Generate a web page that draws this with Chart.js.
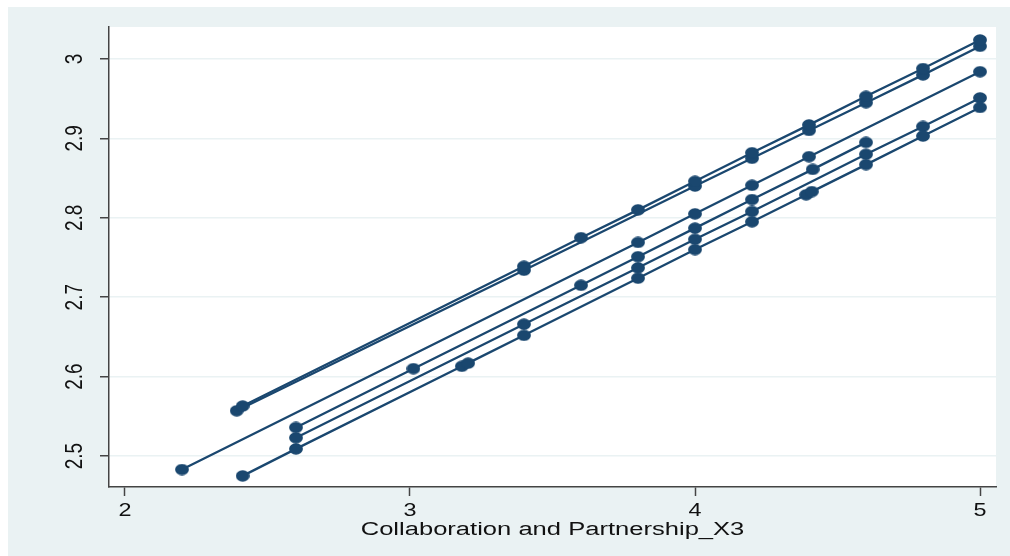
<!DOCTYPE html>
<html>
<head>
<meta charset="utf-8">
<script src="https://cdn.jsdelivr.net/npm/chart.js@4.4.1/dist/chart.umd.min.js"></script>
<style>
  html, body { margin: 0; padding: 0; background: #ffffff; }
  #wrap { width: 1010px; height: 556px; position: relative; }
</style>
</head>
<body>
<div id="wrap"><canvas id="c"></canvas></div>
<script>
// Axis ticks and labels
const xTicks = [2, 3, 4, 5];
const xTickLabels = ['2', '3', '4', '5'];
const yTicks = [2.5, 2.6, 2.7, 2.8, 2.9, 3.0];
const yTickLabels = ['2.5', '2.6', '2.7', '2.8', '2.9', '3'];
const xTitle = 'Collaboration and Partnership_X3';

// Fitted values per group (x = Collaboration and Partnership_X3)
const g1X = [2.413, 3.4, 3.6, 3.8, 4.0, 4.2, 4.4, 4.6, 4.8, 5.0];
const g1Y = [2.563, 2.739, 2.775, 2.810, 2.846, 2.882, 2.917, 2.953, 2.988, 3.024];
const g2X = [2.392, 3.4, 4.0, 4.2, 4.4, 4.6, 4.8, 5.0];
const g2Y = [2.557, 2.734, 2.840, 2.875, 2.910, 2.945, 2.980, 3.016];
const g3X = [2.2, 3.8, 4.0, 4.2, 4.4, 5.0];
const g3Y = [2.483, 2.769, 2.805, 2.841, 2.877, 2.984];
const g4X = [2.413, 2.6, 3.182, 3.204, 3.4, 3.8, 4.0, 4.2, 4.39, 4.41, 4.6, 4.8, 5.0];
const g4Y = [2.475, 2.509, 2.613, 2.617, 2.652, 2.724, 2.760, 2.795, 2.829, 2.833, 2.867, 2.903, 2.939];
const g5X = [2.6, 3.012, 3.6, 3.8, 4.0, 4.2, 4.413, 4.6];
const g5Y = [2.536, 2.610, 2.715, 2.751, 2.787, 2.823, 2.861, 2.895];
const g6X = [2.6, 3.4, 3.8, 4.0, 4.2, 4.6, 4.8, 5.0];
const g6Y = [2.523, 2.666, 2.737, 2.773, 2.808, 2.880, 2.915, 2.951];

const groups = [[g1X, g1Y], [g2X, g2Y], [g3X, g3Y], [g4X, g4Y], [g5X, g5Y], [g6X, g6Y]];

const navy = '#1a476f';
const frameColor = '#eaf2f3';
const axisColor = '#444444';

// Slightly oval marker
function makeMarker() {
  const c = document.createElement('canvas');
  c.width = 14; c.height = 12;
  const g = c.getContext('2d');
  g.fillStyle = navy;
  g.beginPath();
  g.ellipse(7, 6, 6.9, 5.7, 0, 0, Math.PI * 2);
  g.fill();
  return c;
}
const marker = makeMarker();

const datasets = groups.map(([xs, ys]) => ({
  data: xs.map((x, i) => ({ x: x, y: ys[i] })),
  showLine: true,
  borderColor: navy,
  borderWidth: 2.3,
  backgroundColor: navy,
  pointStyle: marker,
  pointRadius: 7,
  pointBorderWidth: 0,
  fill: false,
  tension: 0
}));

function wideText(ctx, text, x, y, sx, rot) {
  ctx.save();
  ctx.translate(x, y);
  ctx.scale(sx, 1);
  if (rot) ctx.rotate(rot);
  ctx.fillText(text, 0, 0);
  ctx.restore();
}

const frame = {
  id: 'frame',
  beforeDraw(chart) {
    const { ctx, width, height, chartArea: a } = chart;
    ctx.save();
    ctx.fillStyle = '#ffffff';
    ctx.fillRect(0, 0, width, height);
    ctx.fillStyle = frameColor;
    ctx.fillRect(8, 7, width - 8, height - 7);
    ctx.fillStyle = '#ffffff';
    ctx.fillRect(a.left, a.top, a.right - a.left, a.bottom - a.top);
    ctx.restore();
  },
  afterDraw(chart) {
    const { ctx, chartArea: a } = chart;
    const xs = chart.scales.x, ys = chart.scales.y;
    ctx.save();
    ctx.fillStyle = '#111111';
    ctx.textAlign = 'center';
    ctx.textBaseline = 'middle';
    ctx.font = '18px "Liberation Sans", Arial, sans-serif';
    xTicks.forEach((v, i) => wideText(ctx, xTickLabels[i], xs.getPixelForValue(v), 511, 1.3, 0));
    ctx.font = '19px "Liberation Sans", Arial, sans-serif';
    yTicks.forEach((v, i) => wideText(ctx, yTickLabels[i], 75, ys.getPixelForValue(v), 1.3, -Math.PI / 2));
    ctx.font = '18px "Liberation Sans", Arial, sans-serif';
    wideText(ctx, xTitle, (a.left + a.right) / 2, 530, 1.42, 0);
    ctx.restore();
  }
};

new Chart(document.getElementById('c'), {
  type: 'scatter',
  data: { datasets: datasets },
  options: {
    responsive: true,
    maintainAspectRatio: false,
    animation: false,
    devicePixelRatio: 1,
    layout: { padding: { left: 0, top: 27, right: 14, bottom: 0 } },
    plugins: { legend: { display: false }, tooltip: { enabled: false } },
    scales: {
      x: {
        type: 'linear',
        min: 1.944,
        max: 5.056,
        afterBuildTicks: s => { s.ticks = xTicks.map(v => ({ value: v })); },
        afterFit: s => { s.height = 69; },
        ticks: { display: false },
        grid: { drawOnChartArea: false, drawTicks: true, tickLength: 9, tickColor: axisColor, tickWidth: 1.5, color: axisColor },
        border: { display: true, color: axisColor, width: 1.5 }
      },
      y: {
        type: 'linear',
        min: 2.461,
        max: 3.0403,
        afterBuildTicks: s => { s.ticks = yTicks.map(v => ({ value: v })); },
        afterFit: s => { s.width = 109; },
        ticks: { display: false },
        grid: { color: frameColor, lineWidth: 1.5, drawTicks: true, tickLength: 9, tickColor: axisColor, tickWidth: 1.5 },
        border: { display: true, color: axisColor, width: 1.5 }
      }
    }
  },
  plugins: [frame]
});
</script>
</body>
</html>
